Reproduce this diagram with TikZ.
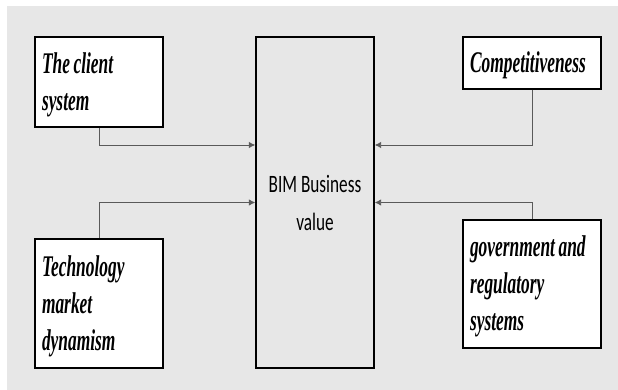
\documentclass[tikz,border=0pt]{standalone}
\usepackage{fontspec}
\setmainfont{Liberation Serif}
\newfontfamily\factorfont[FakeStretch=0.58]{Liberation Serif Bold Italic}
\newfontfamily\valuefont[FakeStretch=0.69]{Carlito}
\usetikzlibrary{arrows.meta}

\tikzset{
  factor/.style={draw=black,line width=1.3pt,fill=white,anchor=center,align=left,
    inner sep=0pt,font=\factorfont\fontsize{30}{37}\selectfont,
    execute at begin node={\spaceskip=3.5pt\relax\rule{0pt}{26pt}}},
  link/.style={draw={rgb,255:red,90;green,90;blue,90},line width=0.9pt,
    -{Latex[length=6.5pt,width=6.5pt]}}
}

\begin{document}
\begin{tikzpicture}[x=1pt,y=-1pt]
% 618 x 390, grey panel with a white edge top and left
\useasboundingbox (0,0) rectangle (618,390);
\path[fill={rgb,255:red,231;green,231;blue,231}] (7,6) rectangle (618,390);
\node[factor,minimum width=128pt,minimum height=90pt,text width=114pt] (client) at (99,82) {The client\\system};
\node[factor,minimum width=138pt,minimum height=52pt,text width=124pt] (compet) at (532,63) {Competitiveness};
\node[draw=black,line width=1.3pt,minimum width=118pt,minimum height=331pt,inner sep=0pt,align=center,
  font=\valuefont\fontsize{25}{38}\selectfont,execute at begin node=\rule{0pt}{21pt}] (bim) at (315,202.5) {BIM Business\\value};
\node[factor,minimum width=128pt,minimum height=129pt,text width=114pt] (techno) at (99,303.5) {Technology\\market\\dynamism};
\node[factor,minimum width=138pt,minimum height=128pt,text width=124pt] (govern) at (532,284) {government and\\regulatory\\systems};
\draw[link] (client.south) |- ([yshift=57.5pt]bim.west);
\draw[link] (techno.north) |- (bim.west);
\draw[link] (compet.south) |- ([yshift=57.5pt]bim.east);
\draw[link] (govern.north) |- (bim.east);
\end{tikzpicture}
\end{document}
